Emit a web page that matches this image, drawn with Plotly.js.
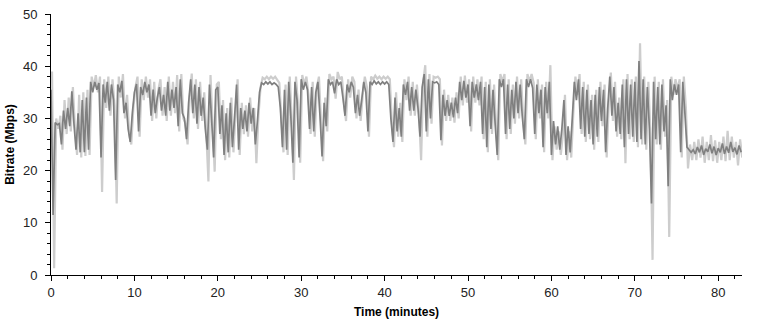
<!DOCTYPE html>
<html><head><meta charset="utf-8">
<script src="https://cdn.plot.ly/plotly-3.0.1.min.js"></script>
<style>html,body{margin:0;padding:0;background:#fff;}#chart{width:771px;height:323px;}</style>
</head><body><div id="chart"></div>
<script>
// sampling of the series (minutes)
const avgStart = 0, rawStart = 0.125, stepMinutes = 0.25;

// smoothed bitrate (dark trace), Mbps, 4 samples per minute
const avgMbps = [
35.5,11.5,29.2,28.8, 29.0,25.0,31.5,28.0, 32.0,28.5,35.2,29.0, 24.0,31.0,23.5,33.5, 23.5,34.0,24.0,37.0,
35.0,37.0,35.5,36.8, 22.5,36.5,33.0,37.0, 31.5,36.5,33.5,18.2, 36.5,35.0,37.2,31.0, 33.0,28.0,25.5,31.0,
35.0,36.6,27.5,36.0, 34.5,37.0,35.0,36.5, 30.5,35.5,31.0,34.0, 36.0,31.5,34.5,30.5, 37.0,31.5,35.5,32.0,
36.0,28.5,37.5,31.0, 30.0,26.0,33.0,37.5, 31.0,36.5,29.0,36.0, 30.5,34.0,28.0,24.0, 36.5,30.0,22.5,35.5,
36.0,27.0,32.5,23.0, 31.0,23.5,33.0,24.5, 30.0,36.5,24.0,32.0, 28.0,31.5,27.5,33.0, 29.0,32.0,25.0,29.5,
35.0,36.8,36.5,37.0, 36.6,37.0,36.5,36.8, 36.5,36.0,32.0,24.5, 35.5,24.0,37.0,30.5, 21.5,37.0,33.5,22.5,
37.5,35.5,37.0,35.5, 28.0,36.0,27.5,35.0, 37.0,30.5,22.7,33.0, 28.5,37.5,36.5,37.0, 34.8,37.5,36.5,37.0,
34.0,30.5,36.5,35.0, 37.0,36.0,31.0,34.5, 30.5,33.5,37.0,35.0, 27.5,37.0,36.5,37.2, 36.6,37.0,36.5,37.0,
36.6,37.0,36.5,30.0, 25.5,34.0,27.5,32.0, 26.5,36.5,34.5,37.0, 31.5,36.0,31.5,35.5, 32.0,26.5,36.0,38.5,
27.5,37.5,30.0,37.0, 36.8,37.0,36.5,25.8, 34.5,30.5,33.5,30.5, 33.0,30.2,34.0,31.0, 37.0,33.5,37.2,34.0,
36.5,28.5,37.0,34.0, 36.5,33.5,37.0,27.0, 36.0,24.5,36.5,28.0, 35.5,29.0,23.0,37.5, 36.0,37.5,27.0,36.5,
28.0,35.5,30.0,37.0, 31.0,36.5,30.5,26.0, 37.5,36.0,37.5,35.8, 27.0,36.5,31.0,35.5, 24.5,36.0,31.0,37.0,
23.0,29.5,25.0,28.5, 24.0,28.0,33.5,23.0, 28.5,23.5,30.0,37.0, 33.5,37.5,28.0,36.0, 26.5,35.5,27.0,33.5,
25.0,34.5,26.5,36.0, 29.5,35.5,23.5,32.0, 38.0,30.5,36.0,27.5, 33.0,27.0,36.5,24.5, 37.5,27.0,36.5,26.5,
37.0,25.5,41.0,26.0, 37.5,25.0,36.0,28.0, 13.7,37.0,26.0,36.0, 25.0,36.5,27.5,32.5, 17.0,37.5,33.5,36.5,
34.5,36.5,23.5,37.0, 31.0,24.5,24.0,23.5, 24.0,23.2,24.5,23.5, 24.8,23.0,24.2,23.6, 25.0,23.3,24.6,23.0,
24.3,23.5,25.2,23.2, 24.6,23.4,25.5,23.6, 24.4,23.1,24.8,23.5
];

// per-second bitrate (light trace), Mbps, 4 samples per minute
const rawMbps = [
39.0,1.3,30.0,28.0, 30.5,24.0,33.5,27.0, 34.0,27.5,36.0,28.0, 23.0,34.5,22.5,35.0, 22.8,35.5,23.0,38.0,
36.0,38.3,35.0,38.0, 15.9,37.5,32.0,38.0, 30.5,37.5,32.5,13.7, 38.0,34.0,38.5,30.0, 34.5,27.0,25.0,32.0,
36.0,38.0,26.5,37.5, 33.5,38.0,34.0,37.5, 29.5,37.0,30.0,35.5, 37.5,30.5,36.0,29.5, 38.0,30.5,37.0,31.0,
38.3,27.5,38.5,30.0, 29.0,25.0,34.0,38.6, 30.0,37.5,28.0,37.0, 29.5,35.0,27.0,17.9, 38.3,29.0,19.8,36.5,
37.0,26.0,33.5,22.0, 32.0,22.5,34.0,23.5, 31.0,37.5,23.0,33.0, 27.0,32.5,26.5,34.0, 27.5,32.0,21.4,30.5,
36.0,37.8,37.5,38.0, 37.5,38.0,37.6,38.0, 37.4,36.8,30.0,23.5, 36.5,23.0,38.0,29.5, 18.2,38.0,32.5,21.5,
38.3,36.5,38.0,34.5, 27.0,37.0,26.5,36.0, 38.0,29.5,21.8,34.0, 27.5,38.5,37.5,38.0, 33.8,38.9,37.5,38.0,
33.0,29.5,37.5,34.0, 38.0,37.0,30.0,35.5, 29.5,34.5,38.0,36.0, 26.5,38.0,37.5,38.2, 37.6,38.0,37.5,38.0,
37.6,38.0,37.5,29.0, 24.5,35.0,26.5,33.0, 25.5,37.5,33.5,38.0, 30.5,37.0,30.5,36.5, 31.0,22.0,37.0,40.2,
26.5,38.5,29.0,38.0, 37.8,38.0,37.5,24.8, 35.5,29.5,34.5,29.5, 34.0,29.2,35.0,30.0, 38.0,32.5,38.2,33.0,
37.5,27.5,38.0,33.0, 37.5,32.5,38.0,26.0, 37.0,23.5,37.5,27.0, 36.5,28.0,22.0,38.5, 37.0,38.5,26.0,37.5,
27.0,36.5,29.0,38.0, 30.0,37.5,29.5,25.0, 38.5,37.0,38.5,36.8, 26.0,37.5,30.0,36.5, 23.5,37.0,30.0,40.2,
22.0,28.5,24.0,27.5, 23.0,27.0,34.5,22.0, 27.5,22.5,31.0,38.0, 34.5,38.5,27.0,37.0, 25.5,36.5,26.0,34.5,
24.0,35.5,25.5,37.0, 28.5,36.5,22.5,33.0, 38.8,29.5,37.0,26.5, 34.0,26.0,37.5,21.4, 38.5,26.0,37.5,25.5,
38.0,24.5,44.4,25.0, 38.0,24.0,37.0,27.0, 2.9,38.0,25.0,37.0, 24.0,37.5,26.5,33.5, 7.3,38.0,34.5,37.5,
35.5,37.5,22.5,38.0, 32.0,20.4,25.0,22.0, 25.5,22.0,26.0,22.5, 26.5,21.5,25.5,22.0, 26.8,21.8,25.8,21.5,
25.5,22.0,26.5,21.8, 27.6,22.0,26.5,22.5, 25.5,21.0,26.0,22.5
];

const xTickVals = [0, 10, 20, 30, 40, 50, 60, 70, 80];
const yTickVals = [0, 10, 20, 30, 40, 50];
const xTitle = 'Time (minutes)';
const yTitle = 'Bitrate (Mbps)';

const XR = [0, 82.85], YR = [0, 50];
const tickFont = {family: 'Liberation Sans, Arial, sans-serif', size: 13, color: '#222'};
const titleFont = {family: 'Liberation Sans, Arial, sans-serif', size: 12, color: '#000'};

const traces = [
  {x0: rawStart, dx: stepMinutes, y: rawMbps, type: 'scatter', mode: 'lines',
   line: {color: '#cdcdcd', width: 2.2, simplify: false}, hoverinfo: 'skip', xaxis: 'x', yaxis: 'y'},
  {x0: avgStart, dx: stepMinutes, y: avgMbps, type: 'scatter', mode: 'lines',
   line: {color: '#808080', width: 1.7, simplify: false}, hoverinfo: 'skip', xaxis: 'x', yaxis: 'y'}
];

const baseAx = {showgrid: false, zeroline: false, showline: true, linecolor: '#000', linewidth: 1,
  tickcolor: '#000', tickwidth: 1, fixedrange: true};

const layout = {
  width: 771, height: 323,
  margin: {l: 51, r: 29, t: 14, b: 48},
  paper_bgcolor: '#fff', plot_bgcolor: '#fff',
  showlegend: false,
  xaxis: Object.assign({}, baseAx, {
    range: XR, tickvals: xTickVals, ticks: 'outside', ticklen: 5, tickfont: tickFont,
    minor: {dtick: 2, tick0: 0, ticks: 'outside', ticklen: 3, tickcolor: '#000'},
    title: {text: '<b>' + xTitle + '</b>', font: titleFont, standoff: 9}
  }),
  xaxis2: Object.assign({}, baseAx, {
    range: XR, overlaying: 'x', tickvals: xTickVals, ticks: 'inside', ticklen: 5, mirror: 'allticks',
    showticklabels: false,
    minor: {dtick: 2, tick0: 0, ticks: 'inside', ticklen: 3, tickcolor: '#000'}
  }),
  yaxis: Object.assign({}, baseAx, {
    range: YR, tickvals: yTickVals, ticks: 'outside', ticklen: 5, tickfont: tickFont,
    ticklabelstandoff: 5,
    minor: {dtick: 2, tick0: 0, ticks: 'outside', ticklen: 3, tickcolor: '#000'},
    title: {text: '<b>' + yTitle + '</b>', font: titleFont, standoff: 5}
  }),
  yaxis2: Object.assign({}, baseAx, {
    range: YR, overlaying: 'y', side: 'right', tickvals: yTickVals, ticks: 'outside', ticklen: 5,
    tickfont: tickFont,
    minor: {dtick: 2, tick0: 0, ticks: 'outside', ticklen: 3, tickcolor: '#000'}
  }),
  yaxis3: Object.assign({}, baseAx, {
    range: YR, overlaying: 'y', tickvals: yTickVals, ticks: 'inside', ticklen: 5, mirror: 'allticks',
    showticklabels: false
  })
};

Plotly.newPlot('chart', traces, layout, {staticPlot: true, displayModeBar: false});
</script>
</body></html>
